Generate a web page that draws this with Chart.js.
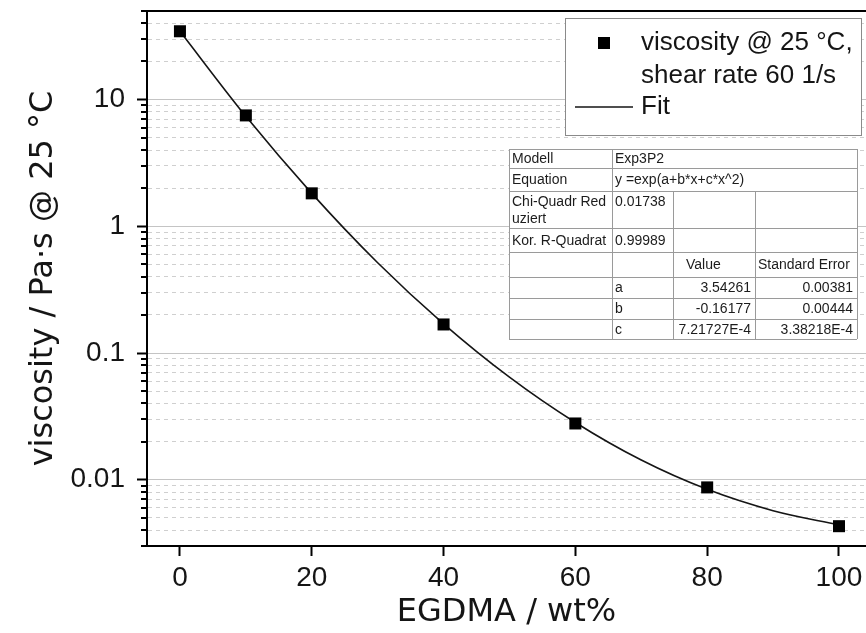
<!DOCTYPE html>
<html>
<head>
<meta charset="utf-8">
<script src="https://cdn.jsdelivr.net/npm/chart.js@4.4.1/dist/chart.umd.min.js"></script>
<style>
  html, body { margin: 0; padding: 0; background: #fff; }
  #chart { display: block; }
</style>
</head>
<body>
<canvas id="chart" width="866" height="633"></canvas>
<script>
/* ─── data ─── */
const egdma     = [0, 10, 20, 40, 60, 80, 100];
const viscosity = [34.6, 7.5, 1.82, 0.168, 0.0278, 0.0087, 0.0043];

// fitted curve, sampled off the drawn line
const fitX = [0, 10, 20, 30, 40, 50, 60, 70, 80, 90, 100];
const fitY = [34.6, 7.37, 1.82, 0.516, 0.170, 0.0645, 0.0283, 0.0143, 0.0084, 0.0057, 0.0044];

const xTicks      = [0, 20, 40, 60, 80, 100];
const yTickLabels = ['0.01', '0.1', '1', '10'];
const legendLines = ['viscosity @ 25 °C,', 'shear rate 60 1/s', 'Fit'];

const tableRows = [
  ['Modell', 'Exp3P2', '', ''],
  ['Equation', 'y =exp(a+b*x+c*x^2)', '', ''],
  ['Chi-Quadr Red\nuziert', '0.01738', '', ''],
  ['Kor. R-Quadrat', '0.99989', '', ''],
  ['', '', 'Value', 'Standard Error'],
  ['', 'a', '3.54261', '0.00381'],
  ['', 'b', '-0.16177', '0.00444'],
  ['', 'c', '7.21727E-4', '3.38218E-4'],
];

const FONT = "'Liberation Sans', Arial, sans-serif";
const TITLE_FONT = "'DejaVu Sans', 'Liberation Sans', sans-serif";
const INK = '#151515';

function isDecade(v) {
  const l = Math.log10(v);
  return Math.abs(l - Math.round(l)) < 1e-9;
}

// major + minor positions of the log axis
const yTicks = [];
for (let e = -3; e <= 1; e++) {
  for (let m = 1; m <= 9; m++) {
    const v = Number((m * Math.pow(10, e)).toPrecision(3));
    if (v >= 0.003 && v <= 50) yTicks.push(v);
  }
}

/* ── legend box ── */
function drawLegend(ctx) {
  ctx.fillStyle = '#fff';
  ctx.fillRect(565, 18, 296, 117);
  ctx.strokeStyle = '#8a8a8a';
  ctx.lineWidth = 1;
  ctx.strokeRect(565.5, 18.5, 296, 117);

  ctx.fillStyle = '#000';
  ctx.fillRect(598, 37, 12, 12);
  ctx.strokeStyle = INK;
  ctx.lineWidth = 1.6;
  ctx.beginPath();
  ctx.moveTo(575, 107);
  ctx.lineTo(633, 107);
  ctx.stroke();

  ctx.fillStyle = INK;
  ctx.font = '26px ' + FONT;
  ctx.textAlign = 'left';
  ctx.textBaseline = 'middle';
  ctx.fillText(legendLines[0], 641, 43);
  ctx.fillText(legendLines[1], 641, 76);
  ctx.fillText(legendLines[2], 641, 107);
}

/* ── fit parameter table ── */
function drawTable(ctx) {
  const cols = [509, 612, 673, 755, 857];
  const rows = [149, 168, 191, 228, 252, 277, 298, 319, 339];
  ctx.fillStyle = '#fff';
  ctx.fillRect(cols[0], rows[0], cols[4] - cols[0], rows[8] - rows[0]);

  ctx.strokeStyle = '#9a9a9a';
  ctx.lineWidth = 1;
  ctx.beginPath();
  rows.forEach(r => { ctx.moveTo(cols[0], r + 0.5); ctx.lineTo(cols[4], r + 0.5); });
  [cols[0], cols[1], cols[4]].forEach(c => { ctx.moveTo(c + 0.5, rows[0]); ctx.lineTo(c + 0.5, rows[8]); });
  [cols[2], cols[3]].forEach(c => { ctx.moveTo(c + 0.5, rows[2]); ctx.lineTo(c + 0.5, rows[8]); });
  ctx.stroke();

  ctx.fillStyle = '#1c1c1c';
  ctx.font = '14px ' + FONT;
  ctx.textBaseline = 'middle';
  tableRows.forEach((row, r) => {
    const top = rows[r], mid = (rows[r] + rows[r + 1]) / 2 + 1;
    row.forEach((txt, c) => {
      if (!txt) return;
      const lines = txt.split('\n');
      const numeric = c >= 2 && r >= 5;
      ctx.textAlign = numeric ? 'right' : 'left';
      let x = numeric ? cols[c + 1] - 4 : cols[c] + 3;
      if (r === 4 && c === 2) x = cols[c] + 13;
      lines.forEach((ln, i) => {
        const y = r === 2 ? top + 11 + i * 17 : mid;
        ctx.fillText(ln, x, y);
      });
    });
  });
}

const extras = {
  id: 'extras',
  afterDraw(chart) {
    const { ctx, chartArea: a, scales: { y } } = chart;
    ctx.save();
    ctx.strokeStyle = '#000';
    ctx.lineWidth = 2;
    // short minor ticks on the y axis
    yTicks.forEach(v => {
      if (isDecade(v)) return;
      const py = Math.round(y.getPixelForValue(v));
      ctx.beginPath();
      ctx.moveTo(a.left - 6, py);
      ctx.lineTo(a.left, py);
      ctx.stroke();
    });
    // top frame line
    ctx.beginPath();
    ctx.moveTo(a.left - 1, a.top);
    ctx.lineTo(a.right, a.top);
    ctx.stroke();
    drawLegend(ctx);
    drawTable(ctx);
    ctx.restore();
  }
};

new Chart(document.getElementById('chart'), {
  type: 'scatter',
  data: {
    datasets: [
      {
        label: 'viscosity @ 25 °C, shear rate 60 1/s',
        data: egdma.map((x, i) => ({ x, y: viscosity[i] })),
        pointStyle: 'rect',
        pointRadius: 8.5,
        backgroundColor: '#000',
        borderColor: '#000',
        borderWidth: 0,
        showLine: false,
        order: 0,
      },
      {
        label: 'Fit',
        data: fitX.map((x, i) => ({ x, y: fitY[i] })),
        showLine: true,
        borderColor: INK,
        borderWidth: 1.6,
        pointRadius: 0,
        cubicInterpolationMode: 'monotone',
        order: 1,
      },
    ],
  },
  options: {
    responsive: false,
    animation: false,
    layout: { autoPadding: false, padding: { top: 11, left: 0, right: 0, bottom: 0 } },
    plugins: { legend: { display: false }, tooltip: { enabled: false } },
    scales: {
      x: {
        type: 'linear',
        min: -5,
        max: 104.1,
        afterBuildTicks: s => { s.ticks = xTicks.map(v => ({ value: v })); },
        afterFit: s => { s.height = 87; s.paddingLeft = 0; s.paddingRight = 0; },
        grid: { drawOnChartArea: false, tickLength: 10, tickWidth: 2, tickColor: '#000' },
        border: { color: '#000', width: 2 },
        ticks: { color: INK, font: { family: FONT, size: 28 }, padding: 5, maxRotation: 0, autoSkip: false },
        title: { display: true, text: 'EGDMA / wt%', color: INK, font: { family: TITLE_FONT, size: 32 }, padding: { top: 0, bottom: 1 } },
      },
      y: {
        type: 'logarithmic',
        min: 0.003,
        max: 50,
        afterBuildTicks: s => { s.ticks = yTicks.map(v => ({ value: v })); },
        afterFit: s => { s.width = 147; s.paddingTop = 0; s.paddingBottom = 0; },
        grid: {
          color: c => (c.tick && isDecade(c.tick.value) ? '#c4c4c4' : '#cfcfcf'),
          lineWidth: 1,
          tickLength: 10,
          tickWidth: 2,
          tickColor: c => (c.tick && isDecade(c.tick.value) ? '#000' : 'rgba(0,0,0,0)'),
        },
        border: {
          color: '#000',
          width: 2,
          dash: c => (c.tick && !isDecade(c.tick.value) ? [4, 4] : []),
        },
        ticks: {
          color: INK,
          font: { family: FONT, size: 28 },
          padding: 12,
          autoSkip: false,
          callback: v => (yTickLabels.includes(String(v)) ? String(v) : ''),
        },
        title: { display: true, text: 'viscosity / Pa·s @ 25 °C', color: INK, font: { family: TITLE_FONT, size: 32 }, padding: { top: 24, bottom: 0 } },
      },
    },
  },
  plugins: [extras],
});
</script>
</body>
</html>
